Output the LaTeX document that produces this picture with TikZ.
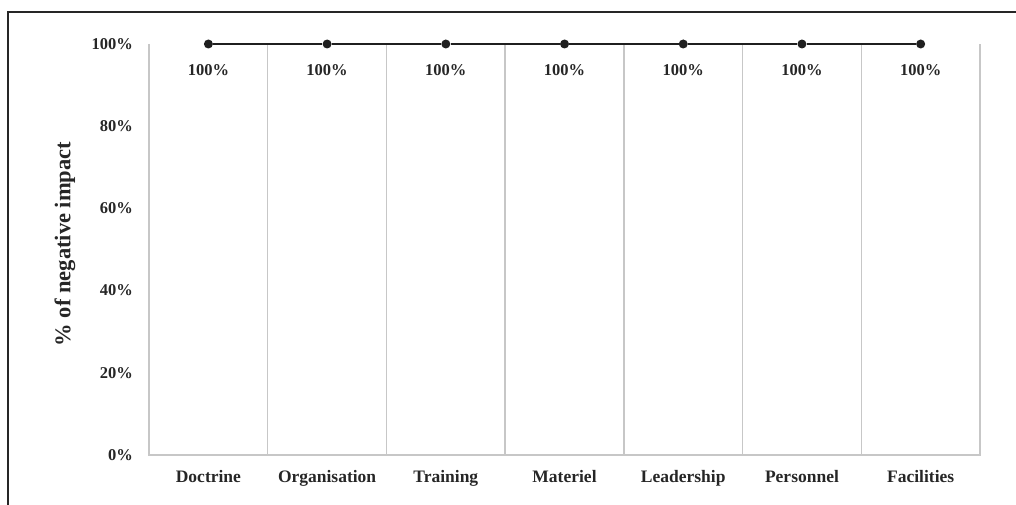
\documentclass[tikz,border=0pt]{standalone}
\usepackage{fontspec}
\setmainfont{Liberation Serif}
\usetikzlibrary{positioning}

\tikzset{
	dot/.style={circle, fill=black!88, inner sep=0pt, minimum size=9pt},
	gridline/.style={draw=black!22, line width=1.4pt},
	dataline/.style={draw=black!88, line width=2.8pt},
	ticklabel/.style={font=\fontsize{16.5}{18}\selectfont\bfseries, text=black!85, anchor=east, inner sep=0pt},
	vallabel/.style={font=\fontsize{16.5}{18}\selectfont\bfseries, text=black!85, inner sep=0pt},
	catlabel/.style={font=\fontsize{17.5}{19}\selectfont\bfseries, text=black!85, inner sep=0pt, text height=12pt, text depth=4pt},
}

\begin{document}
\begin{tikzpicture}[x=1pt, y=-1pt, node distance=118.71pt]
				\useasboundingbox (0,0) rectangle (1016,505);
				% frame
				\draw[line width=1.5pt, black!85] (1016,12) -- (8,12) -- (8,505);
				% grid
				\draw[gridline] (149,44) -- (149,455) -- (980,455) -- (980,44);
				\draw[gridline] (267.7,44) -- (267.7,455);
				\draw[gridline] (386.4,44) -- (386.4,455);
				\draw[gridline] (505.1,44) -- (505.1,455);
				\draw[gridline] (623.9,44) -- (623.9,455);
				\draw[gridline] (742.6,44) -- (742.6,455);
				\draw[gridline] (861.3,44) -- (861.3,455);
				% y axis
				\node[ticklabel] (t100) at (133,44) {100\%};
				\node[ticklabel] (t80) at (133,126.2) {80\%};
				\node[ticklabel] (t60) at (133,208.4) {60\%};
				\node[ticklabel] (t40) at (133,290.6) {40\%};
				\node[ticklabel] (t20) at (133,372.8) {20\%};
				\node[ticklabel] (t0) at (133,455) {0\%};
				\node[rotate=90, font=\fontsize{22.5}{26}\selectfont\bfseries, text=black!85, inner sep=0pt] (ylab) at (65,244) {\% of negative impact};
				% data points
				\node[dot] (p1) at (208.4,44) {};
				\node[dot, right of=p1] (p2) {};
				\node[dot, right of=p2] (p3) {};
				\node[dot, right of=p3] (p4) {};
				\node[dot, right of=p4] (p5) {};
				\node[dot, right of=p5] (p6) {};
				\node[dot, right of=p6] (p7) {};
				\path[dataline] (p1) edge (p2)
					(p2) edge (p3)
					(p3) edge (p4)
					(p4) edge (p5)
					(p5) edge (p6)
					(p6) edge (p7);
				% value labels
				\node[vallabel, below of=p1, node distance=26pt] (v1) {100\%};
				\node[vallabel, below of=p2, node distance=26pt] (v2) {100\%};
				\node[vallabel, below of=p3, node distance=26pt] (v3) {100\%};
				\node[vallabel, below of=p4, node distance=26pt] (v4) {100\%};
				\node[vallabel, below of=p5, node distance=26pt] (v5) {100\%};
				\node[vallabel, below of=p6, node distance=26pt] (v6) {100\%};
				\node[vallabel, below of=p7, node distance=26pt] (v7) {100\%};
				% categories
				\node[catlabel] (c1) at (208.4,478) {Doctrine};
				\node[catlabel, right of=c1] (c2) {Organisation};
				\node[catlabel, right of=c2] (c3) {Training};
				\node[catlabel, right of=c3] (c4) {Materiel};
				\node[catlabel, right of=c4] (c5) {Leadership};
				\node[catlabel, right of=c5] (c6) {Personnel};
				\node[catlabel, right of=c6] (c7) {Facilities};
			\end{tikzpicture}
\end{document}
